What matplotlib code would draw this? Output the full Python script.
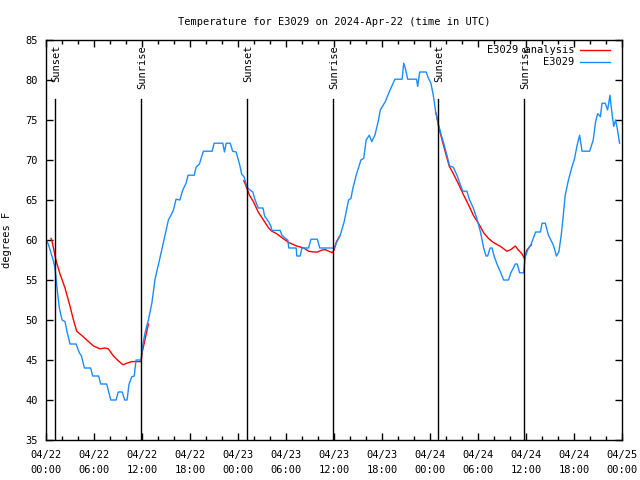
import matplotlib
matplotlib.use("Agg")
import matplotlib.pyplot as plt
import numpy as np

plt.rcParams['font.family'] = ['DejaVu Sans Mono']

title = "Temperature for E3029 on 2024-Apr-22 (time in UTC)"
ylabel = "degrees F"
xtick_labels = ["04/22\n00:00", "04/22\n06:00", "04/22\n12:00", "04/22\n18:00",
                "04/23\n00:00", "04/23\n06:00", "04/23\n12:00", "04/23\n18:00",
                "04/24\n00:00", "04/24\n06:00", "04/24\n12:00", "04/24\n18:00",
                "04/25\n00:00"]
xtick_hours = [0, 6, 12, 18, 24, 30, 36, 42, 48, 54, 60, 66, 72]

# hours since 04/22 00:00 UTC, temperature (F)
obs_hours = [0.0, 0.25, 0.55, 0.85, 1.05, 1.2, 1.4, 1.63, 1.97, 2.34, 2.6, 2.97, 3.72, 4.13, 4.4, 4.76,
             5.55, 5.8, 6.55, 6.8, 7.55, 8.06, 8.72, 9.0, 9.5, 9.8, 10.1, 10.35, 10.7, 11.0, 11.22,
             11.85, 12.0, 12.35, 12.77, 13.2, 13.6, 14.2, 14.73, 15.27, 15.6, 15.9, 16.23, 16.7,
             17.07, 17.48, 17.73, 18.5, 18.73, 19.15, 19.36, 19.65, 20.74, 20.99, 22.07, 22.28,
             22.5, 23.0, 23.3, 23.74, 24.16, 24.45, 24.74, 25.0, 25.28, 25.83, 26.12, 26.5, 27.1,
             27.3, 27.8, 28.1, 28.2, 29.25, 29.46, 29.9, 30.2, 30.33, 31.25, 31.33, 31.75, 31.96,
             32.8, 33.1, 33.9, 34.2, 35.7, 36.0, 36.26, 36.76, 37.26, 37.8, 38.1, 38.35, 38.76,
             39.35, 39.7, 40.0, 40.4, 40.7, 41.1, 41.55, 41.77, 42.4, 42.8, 43.2, 43.6, 44.5, 44.7,
             44.9, 45.2, 46.3, 46.45, 46.7, 47.5, 47.8, 48.1, 48.4, 48.7, 49.06, 49.4, 49.7, 50.1,
             50.44, 50.9, 51.4, 51.7, 52.1, 52.6, 52.9, 53.4, 53.9, 54.3, 54.7, 55.0, 55.2, 55.5,
             55.75, 56.0, 56.4, 56.8, 57.2, 57.8, 58.1, 58.66, 58.9, 59.2, 59.7, 59.9, 60.2, 60.6,
             61.2, 61.8, 62.0, 62.4, 62.8, 63.4, 63.8, 64.1, 64.4, 64.6, 64.9, 65.3, 65.76, 66.05,
             66.4, 66.7, 67.0, 67.96, 68.4, 68.7, 68.96, 69.3, 69.5, 69.9, 70.2, 70.5, 70.6, 70.96,
             71.2, 71.4, 71.7]
obs_temps = [60, 59.5, 58.5, 57.5, 56.7, 55.4, 53.5, 51.5, 50, 49.8, 48.5, 47, 47, 45.9, 45.5, 44,
             44, 43, 43, 42, 42, 40, 40, 41, 41, 40, 40, 42, 42.9, 43, 45,
             45, 46.5, 48.4, 50, 52.1, 55.1, 57.7, 60.1, 62.5, 63.1, 63.75, 65.1, 65,
             66.25, 67.1, 68.1, 68.1, 69.1, 69.5, 70.2, 71.1, 71.1, 72.1, 72.1, 71,
             72.1, 72.1, 71.1, 71, 69.5, 68.2, 67.9, 66.9, 66.4, 66, 65, 64, 64,
             63, 62.3, 61.7, 61.2, 61.2, 60.6, 60.2, 60, 59, 59, 58, 58, 59,
             59, 60.1, 60.1, 59, 59, 59, 59.6, 60.6, 62.3, 65, 65.2, 66.5, 68.1,
             70, 70.2, 72.5, 73.1, 72.3, 73.1, 75, 76.25, 77.3, 78.3, 79.2, 80.1, 80.1, 82.1,
             81.5, 80.1, 80.1, 79.2, 81, 81, 80.2, 79.6, 78.1, 76, 74.4, 73.1, 72.1, 70.6,
             69.25, 69.1, 68, 67.1, 66.1, 66.1, 65.1, 64, 62.5, 61, 59, 58, 58, 59,
             59, 58, 56.9, 56, 55, 55, 55.9, 57, 57, 55.9, 55.9, 57.9, 58.75, 59.4,
             61, 61, 62.1, 62.1, 60.6, 59.4, 58, 58.5, 60.6, 62.5, 65.6, 67.5, 69.2, 70.1,
             71.9, 73.1, 71.1, 71.1, 72.5, 74.8, 75.8, 75.4, 77.1, 77.1, 76.25, 78.1, 77, 74.2,
             75, 74, 72.1]

# analysis segments (NaN separates the nightly segments)
ana_hours = [0.6, 0.75, 1.2, 1.7, 2.34, 2.97, 3.4, 3.8, 4.4, 5.06, 5.9, 6.7, 7.35, 7.75, 8.4, 9.0,
             9.6, 10.06, 10.7, 11.85, 12.0, 12.4, 12.77, np.nan,
             24.7, 25.0, 25.4, 25.9, 26.5, 27.16, 27.8, 28.2, 28.8, 29.45, 30.3, 31.3, 32.2, 32.8,
             33.4, 33.9, 34.5, 34.9, 35.3, 35.8, 36.0, 36.3, 36.7, np.nan,
             48.7, 48.8, 49.06, 49.5, 49.9, 50.4, 50.9, 51.6, 52.2, 52.8, 53.4, 54.1, 54.7, 55.3,
             55.9, 56.8, 57.6, 58.1, 58.66, 59.0, 59.5, 59.8, 60.1, 60.66]
ana_temps = [60.2, 59.7, 57.5, 55.8, 54, 51.7, 50, 48.6, 48.1, 47.5, 46.75, 46.4, 46.5, 46.4, 45.5, 44.9,
             44.4, 44.6, 44.8, 44.8, 46.0, 47.8, 49.5, np.nan,
             67.4, 66.7, 65.6, 64.8, 63.5, 62.5, 61.5, 61.1, 60.8, 60.3, 59.7, 59.25, 59, 58.6,
             58.5, 58.5, 58.75, 58.8, 58.6, 58.4, 58.8, 59.8, 60.5, np.nan,
             75.9, 75.6, 74.2, 72.5, 71, 69.2, 68.3, 66.9, 65.6, 64.4, 63.1, 62, 60.9, 60.2,
             59.7, 59.2, 58.6, 58.8, 59.25, 58.8, 58.25, 57.7, 58.75, 59.4]

sunset_hours = [1.1, 25.05, 49.05]
sunrise_hours = [11.85, 35.8, 59.8]

fig = plt.figure(figsize=(6.4, 4.8), dpi=100)
ax = fig.add_axes([46.3 / 640, 40 / 480, (622 - 46.3) / 640, 400 / 480])

fs = 7.5
ax.plot(ana_hours, ana_temps, color='#ff0000', lw=1.0, label='E3029 analysis')
ax.plot(obs_hours, obs_temps, color='#1a8cff', lw=1.0, label='E3029')

for h in sunset_hours:
    ax.plot([h, h], [35, 77.6], color='black', lw=1.0)
    ax.text(h + 0.15, 84.4, 'Sunset', rotation=90, ha='center', va='top', fontsize=fs)
for h in sunrise_hours:
    ax.plot([h, h], [35, 77.6], color='black', lw=1.0)
    ax.text(h + 0.15, 84.4, 'Sunrise', rotation=90, ha='center', va='top', fontsize=fs)

ax.set_xlim(0, 72)
ax.set_ylim(35, 85)
ax.set_xticks(xtick_hours)
ax.set_xticklabels(xtick_labels, fontsize=fs, linespacing=1.6)
ax.set_xticks(np.arange(0, 73, 2), minor=True)
ax.set_yticks(np.arange(35, 86, 5))
ax.tick_params(axis='y', labelsize=fs, pad=6)
ax.tick_params(which='both', direction='in', top=True, right=True)
ax.tick_params(which='major', length=5, width=1)
ax.tick_params(which='minor', length=3, width=1)
ax.tick_params(axis='x', pad=7)
for s in ax.spines.values():
    s.set_linewidth(1.0)

ax.set_title(title, fontsize=fs, pad=11)
ax.set_ylabel(ylabel, fontsize=fs, labelpad=10)

leg = ax.legend(loc='upper right', bbox_to_anchor=(0.979, 0.987), markerfirst=False,
                frameon=False, fontsize=fs, handlelength=2.9, handletextpad=0.5,
                labelspacing=0.2, borderaxespad=0.0, borderpad=0.0)

fig.savefig('out.png', dpi=100)
